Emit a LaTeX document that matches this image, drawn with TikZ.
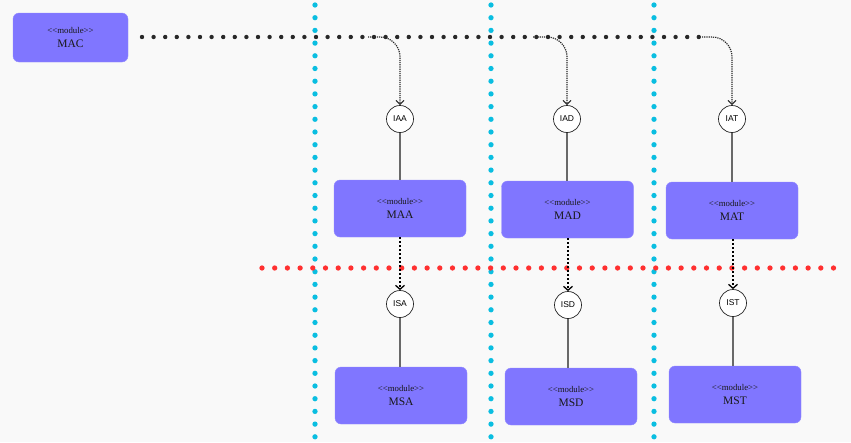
\documentclass[tikz,border=0pt]{standalone}
\usepackage{fontspec}
\setmainfont{Liberation Serif}
\newfontfamily\labelsans{Liberation Sans}
\usetikzlibrary{arrows.meta}
\definecolor{modfill}{RGB}{128,118,255}
\definecolor{lanecyan}{RGB}{10,190,225}
\definecolor{lanered}{RGB}{255,48,48}
\definecolor{paper}{RGB}{249,249,249}
\definecolor{ink}{RGB}{40,40,40}
\definecolor{wire}{RGB}{105,105,105}
\newcommand{\stereo}{{\fontsize{8.8}{11}\selectfont{<}{<}module{>}{>}}}
\begin{document}
\begin{tikzpicture}[x=1pt,y=-1pt,
  module/.style={draw=modfill!85!white, fill=modfill, rounded corners=6pt,
    minimum width=132pt, minimum height=57pt, align=center, inner sep=0pt,
    text=black!90, font=\fontsize{11.5}{14.5}\selectfont},
  iface/.style={circle, draw=black!85, line width=0.7pt, fill=white,
    minimum size=27pt, inner sep=0pt, font=\labelsans\fontsize{8.5}{10}\selectfont},
  link/.style={draw=wire, line width=2.2pt},
  lane/.style={line width=5.3pt, line cap=round, dash pattern=on 0pt off 12.7pt},
  bus/.style={draw=ink, line width=4.4pt, line cap=round, dash pattern=on 0pt off 11.6pt},
  tap/.style={draw=ink, line width=1.2pt, densely dotted, rounded corners=20pt,
    -{Straight Barb[length=4pt,width=8pt,line width=1pt]}},
  dep/.style={draw=black, line width=2.2pt, dash pattern=on 2pt off 2pt,
    -{Straight Barb[length=4pt,width=9pt,line width=1.3pt]}}
]
\useasboundingbox[fill=paper] (0,0) rectangle (851,442);

% swim lanes
\foreach \x in {315,491,654}
  \draw[lane, draw=lanecyan] (\x,5) -- (\x,442);
\draw[lane, draw=lanered] (262,268) -- (836,268);

% modules
\node[module, minimum width=115pt, minimum height=49pt] (MAC) at (70.5,37.5)
  {\stereo\\MAC};
\node[module] (MAA) at (400,208.5) {\stereo\\MAA};
\node[module] (MAD) at (567.5,209.5) {\stereo\\MAD};
\node[module] (MAT) at (732,210.5) {\stereo\\MAT};
\node[module] (MSA) at (401,395.5) {\stereo\\MSA};
\node[module] (MSD) at (571,396.5) {\stereo\\MSD};
\node[module] (MST) at (735,394.5) {\stereo\\MST};

% interfaces
\node[iface] (IAA) at (400,119) {IAA};
\node[iface] (IAD) at (567,119) {IAD};
\node[iface] (IAT) at (732,119) {IAT};
\node[iface] (ISA) at (400,304) {ISA};
\node[iface] (ISD) at (568,305) {ISD};
\node[iface] (IST) at (733,303) {IST};

% provided interfaces
\draw[link] (IAA) -- (MAA.north -| IAA);
\draw[link] (IAD) -- (MAD.north -| IAD);
\draw[link] (IAT) -- (MAT.north -| IAT);
\draw[link] (ISA) -- (MSA.north -| ISA);
\draw[link] (ISD) -- (MSD.north -| ISD);
\draw[link] (IST) -- (MST.north -| IST);

% bus from MAC and its taps
\coordinate (busL) at (142,37);
\coordinate (busR) at (710,37);
\coordinate (tapA) at (368,37);
\coordinate (tapD) at (533,37);
\coordinate (tapT) at (702,37);
\draw[bus] (busL) -- (busR);
\draw[tap] (tapA) -| (IAA.north);
\draw[tap] (tapD) -| (IAD.north);
\draw[tap] (tapT) -| (IAT.north);

% required interfaces
\draw[dep] (MAA.south -| ISA) -- (ISA.north);
\draw[dep] (MAD.south -| ISD) -- (ISD.north);
\draw[dep] (MAT.south -| IST) -- (IST.north);
\end{tikzpicture}
\end{document}
